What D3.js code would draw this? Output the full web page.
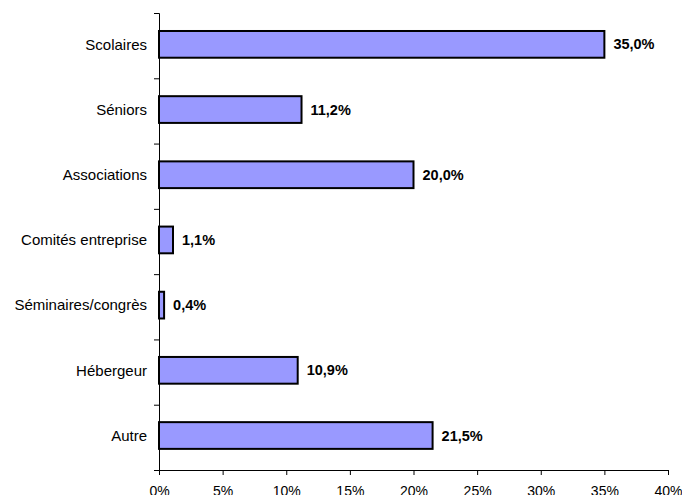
<!DOCTYPE html>
<html>
<head>
<meta charset="utf-8">
<script src="https://d3js.org/d3.v7.min.js"></script>
<style>
  body { margin: 0; background: #fff; }
  text { font-family: "Liberation Sans", Arial, sans-serif; }
</style>
</head>
<body>
<div id="viz"></div>
<script>
// data
var categories = ["Scolaires", "Séniors", "Associations", "Comités entreprise", "Séminaires/congrès", "Hébergeur", "Autre"];
var values = [35.0, 11.2, 20.0, 1.1, 0.4, 10.9, 21.5];
var xTicks = [0, 5, 10, 15, 20, 25, 30, 35, 40];

var W = 682, H = 495;
// plot area (note: "top" is a reserved window prop, so prefix these)
var plotLeft = 159, plotRight = 668, plotTop = 13, plotBottom = 470;

var svg = d3.select("#viz").append("svg")
  .attr("width", W)
  .attr("height", H);

var x = d3.scaleLinear().domain([0, 40]).range([plotLeft, plotRight]);
var y = d3.scaleBand().domain(categories).range([plotTop, plotBottom])
  .paddingInner(0.59).paddingOuter(0.3).align(0.46);

// bars
svg.selectAll("rect.bar")
  .data(values)
  .enter()
  .append("rect")
  .attr("class", "bar")
  .attr("x", x(0))
  .attr("y", function (d, i) { return y(categories[i]); })
  .attr("width", function (d) { return x(d) - x(0); })
  .attr("height", y.bandwidth())
  .style("fill", "#9999ff")
  .style("stroke", "#000")
  .style("stroke-width", 2);

// value labels
svg.selectAll("text.val")
  .data(values)
  .enter()
  .append("text")
  .attr("class", "val")
  .attr("x", function (d) { return x(d) + 9; })
  .attr("y", function (d, i) { return y(categories[i]) + y.bandwidth() / 2; })
  .attr("dy", "0.35em")
  .style("font-size", "14.5px")
  .style("font-weight", "bold")
  .text(function (d) { return d.toFixed(1).replace(".", ",") + "%"; });

// x axis
var xAxis = d3.axisBottom(x)
  .tickValues(xTicks)
  .tickSize(5)
  .tickPadding(11)
  .tickFormat(function (d) { return d + "%"; });

var gx = svg.append("g")
  .attr("transform", "translate(0," + plotBottom + ")")
  .call(xAxis);
gx.select(".domain").attr("stroke", "#000");
gx.selectAll("text").style("font-size", "14px").attr("fill", "#000").style("font-family", "'Liberation Sans', Arial, sans-serif");

// y axis: ticks at band boundaries, labels centred on bars
var yl = d3.scaleLinear().domain([0, categories.length]).range([plotTop, plotBottom]);
var gy = svg.append("g")
  .attr("transform", "translate(" + plotLeft + ",0)")
  .call(d3.axisLeft(yl).ticks(categories.length).tickSize(5).tickFormat(""));
gy.select(".domain").attr("stroke", "#000");

svg.selectAll("text.cat")
  .data(categories)
  .enter()
  .append("text")
  .attr("class", "cat")
  .attr("x", plotLeft - 12)
  .attr("y", function (d) { return y(d) + y.bandwidth() / 2; })
  .attr("dy", "0.35em")
  .attr("text-anchor", "end")
  .style("font-size", "15px")
  .text(function (d) { return d; });
</script>
</body>
</html>
